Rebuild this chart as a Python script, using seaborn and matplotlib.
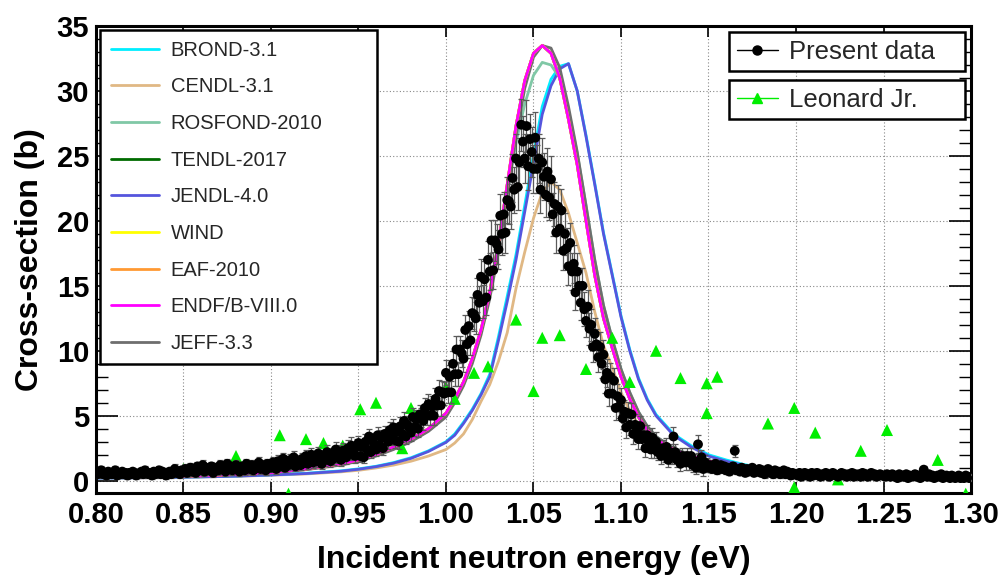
import numpy as np
import pandas as pd
import matplotlib
matplotlib.use("Agg")
import matplotlib.pyplot as plt
import seaborn as sns
from matplotlib.lines import Line2D
from matplotlib.ticker import MultipleLocator, FormatStrFormatter

# ---------------- data ----------------
# Present data: energy grid (eV, 1 meV bins) and cross-section (b) with uncertainties
energy = np.linspace(0.80, 1.30, 501)
xs_present = [
    # 0.800 - 0.849
    0.7, 0.5, 0.6, 0.8, 0.5, 0.6, 0.4, 0.7, 0.6, 0.5, 0.6, 0.8, 0.4, 0.6, 0.5, 0.7, 0.5, 0.6, 0.4, 0.6,
    0.5, 0.7, 0.6, 0.4, 0.5, 0.6, 0.7, 0.5, 0.8, 0.6, 0.5, 0.6, 0.4, 0.7, 0.5, 0.6, 0.8, 0.5, 0.7, 0.6,
    0.4, 0.6, 0.7, 0.5, 0.6, 0.9, 0.6, 0.7, 0.5, 0.8,
    # 0.850 - 0.899
    0.7, 0.9, 0.6, 0.8, 1.0, 0.7, 0.9, 0.6, 1.1, 0.8, 0.9, 1.2, 0.7, 1.0, 0.8, 0.9, 1.1, 0.6, 1.0, 0.9,
    0.8, 1.2, 0.9, 1.0, 0.7, 1.3, 0.9, 1.1, 0.8, 1.0, 1.2, 0.9, 0.7, 1.1, 1.0, 0.8, 1.3, 1.0, 0.9, 1.2,
    0.8, 1.1, 1.0, 1.4, 0.9, 1.2, 1.0, 0.8, 1.3, 1.1,
    # 0.900 - 0.949
    1.0, 1.4, 1.2, 0.9, 1.5, 1.1, 1.3, 1.7, 1.0, 1.4, 1.2, 1.6, 1.3, 1.8, 1.1, 1.5, 1.4, 1.2, 1.7, 1.5,
    1.9, 1.3, 1.6, 2.0, 1.4, 1.8, 1.5, 2.1, 1.7, 1.3, 1.9, 1.6, 2.2, 1.8, 1.5, 2.0, 1.7, 2.4, 1.9, 2.2,
    1.6, 2.3, 2.0, 1.8, 2.5, 2.1, 2.7, 2.2, 1.9, 2.6,
    # 0.950 - 0.999
    2.9, 1.9, 2.6, 1.8, 3.0, 2.4, 3.4, 2.2, 3.1, 2.8, 2.4, 3.5, 2.7, 3.3, 2.5, 3.6, 3.3, 3.0, 3.9, 3.3,
    4.1, 3.1, 3.8, 3.0, 4.2, 3.6, 4.6, 3.4, 4.3, 4.1, 3.7, 4.9, 4.1, 4.7, 4.0, 5.1, 4.9, 4.6, 5.6, 5.0,
    5.9, 5.0, 5.7, 5.0, 6.3, 5.8, 6.9, 5.8, 6.8, 6.7,
    # 1.000 - 1.049
    8.3, 6.8, 8.0, 6.8, 9.0, 8.2, 10.1, 8.2, 10.1, 9.8, 9.4, 11.6, 10.5, 11.9, 10.8, 12.9, 12.8, 12.5, 14.3, 13.7,
    15.7, 13.8, 15.5, 14.1, 17.0, 16.1, 18.5, 16.2, 18.5, 18.2, 17.8, 20.4, 19.0, 20.5, 19.1, 21.6, 21.5, 21.1, 23.3, 22.4,
    24.8, 22.6, 24.5, 27.4, 26.1, 24.8, 27.3, 24.2, 26.3, 25.3,
    # 1.050 - 1.099
    24.0, 26.4, 24.0, 24.8, 22.4, 24.5, 23.4, 22.0, 23.8, 21.8, 23.2, 20.5, 21.3, 19.1, 21.1, 19.4, 20.8, 17.7, 19.0, 17.9,
    16.5, 18.3, 16.1, 16.7, 14.5, 16.1, 15.0, 13.7, 15.0, 13.2, 12.3, 13.4, 11.7, 12.0, 10.3, 11.3, 10.5, 9.5, 10.3, 9.0,
    9.7, 7.8, 8.3, 6.7, 8.0, 6.7, 7.7, 5.6, 6.5, 5.7,
    # 1.100 - 1.149
    6.2, 4.8, 5.3, 4.1, 5.2, 4.3, 5.1, 3.6, 4.3, 3.8, 3.2, 4.2, 3.2, 3.5, 2.5, 3.5, 3.0, 2.4, 3.3, 2.4,
    3.0, 2.2, 2.5, 1.9, 2.5, 2.1, 2.6, 1.6, 2.2, 1.9, 3.4, 2.2, 1.6, 1.8, 1.3, 1.9, 1.7, 1.4, 1.9, 1.4,
    1.9, 1.2, 1.5, 1.0, 2.8, 1.2, 1.8, 0.9, 1.4, 1.2,
    # 1.150 - 1.199
    1.0, 1.2, 0.9, 1.1, 1.3, 0.8, 1.0, 1.2, 0.9, 1.1, 0.8, 1.0, 0.7, 0.9, 1.1, 2.3, 0.8, 0.9, 0.7, 1.0,
    0.8, 0.6, 0.9, 0.7, 0.8, 1.0, 0.6, 0.8, 0.7, 0.9, 0.6, 0.8, 0.5, 0.7, 0.9, 0.6, 0.7, 0.5, 0.8, 0.6,
    0.7, 0.5, 0.6, 0.8, 0.5, 0.7, 0.6, 0.4, 0.6, 0.5,
    # 1.200 - 1.249
    0.5, 0.4, 0.6, 0.3, 0.5, 0.6, 0.4, 0.5, 0.3, 0.6, 0.4, 0.5, 0.6, 0.4, 0.3, 0.5, 0.4, 0.6, 0.5, 0.3,
    0.4, 0.6, 0.5, 0.4, 0.3, 0.5, 0.6, 0.4, 0.5, 0.3, 0.5, 0.4, 0.6, 0.3, 0.5, 0.4, 0.5, 0.3, 0.6, 0.4,
    0.5, 0.3, 0.4, 0.6, 0.4, 0.5, 0.3, 0.4, 0.5, 0.4,
    # 1.250 - 1.300
    0.4, 0.3, 0.5, 0.4, 0.3, 0.5, 0.4, 0.3, 0.2, 0.5, 0.3, 0.4, 0.3, 0.5, 0.2, 0.4, 0.3, 0.4, 0.5, 0.3,
    0.4, 0.2, 0.3, 0.85, 0.4, 0.3, 0.5, 0.3, 0.4, 0.2, 0.3, 0.4, 0.3, 0.5, 0.2, 0.3, 0.4, 0.3, 0.2, 0.4,
    0.3, 0.2, 0.3, 0.4, 0.2, 0.3, 0.2, 0.4, 0.3, 0.2, 0.3,
]
err_present = [
    0.31, 0.28, 0.30, 0.33, 0.28, 0.30, 0.26, 0.31, 0.30, 0.28, 0.30, 0.33, 0.26, 0.30, 0.28, 0.31, 0.28, 0.30, 0.26, 0.30,
    0.28, 0.31, 0.30, 0.26, 0.28, 0.30, 0.31, 0.28, 0.33, 0.30, 0.28, 0.30, 0.26, 0.31, 0.28, 0.30, 0.33, 0.28, 0.31, 0.30,
    0.26, 0.30, 0.31, 0.28, 0.30, 0.35, 0.30, 0.31, 0.28, 0.33,
    0.31, 0.35, 0.30, 0.33, 0.36, 0.31, 0.35, 0.30, 0.37, 0.33, 0.35, 0.38, 0.31, 0.36, 0.33, 0.35, 0.37, 0.30, 0.36, 0.35,
    0.33, 0.38, 0.35, 0.36, 0.31, 0.40, 0.35, 0.37, 0.33, 0.36, 0.38, 0.35, 0.31, 0.37, 0.36, 0.33, 0.40, 0.36, 0.35, 0.38,
    0.33, 0.37, 0.36, 0.41, 0.35, 0.38, 0.36, 0.33, 0.40, 0.37,
    0.36, 0.42, 0.39, 0.35, 0.44, 0.37, 0.40, 0.46, 0.36, 0.42, 0.39, 0.45, 0.40, 0.48, 0.37, 0.44, 0.42, 0.39, 0.46, 0.44,
    0.50, 0.40, 0.45, 0.52, 0.42, 0.48, 0.44, 0.53, 0.46, 0.40, 0.50, 0.45, 0.55, 0.48, 0.44, 0.52, 0.46, 0.58, 0.50, 0.55,
    0.45, 0.57, 0.52, 0.48, 0.60, 0.53, 0.63, 0.55, 0.50, 0.62,
    0.55, 0.46, 0.52, 0.45, 0.56, 0.50, 0.60, 0.48, 0.57, 0.54, 0.50, 0.61, 0.53, 0.59, 0.51, 0.62, 0.59, 0.56, 0.65, 0.59,
    0.66, 0.57, 0.64, 0.56, 0.67, 0.62, 0.70, 0.60, 0.68, 0.66, 0.63, 0.73, 0.66, 0.71, 0.65, 0.74, 0.73, 0.70, 0.78, 0.73,
    0.80, 0.73, 0.79, 0.73, 0.84, 0.80, 0.88, 0.80, 0.87, 0.86,
    0.96, 0.85, 0.94, 0.85, 1.00, 0.94, 1.07, 0.94, 1.07, 1.05, 1.02, 1.17, 1.09, 1.19, 1.12, 1.25, 1.24, 1.22, 1.34, 1.30,
    1.40, 1.30, 1.39, 1.32, 1.48, 1.43, 1.57, 1.44, 1.57, 1.55, 1.52, 1.68, 1.59, 1.69, 1.60, 1.75, 1.74, 1.72, 1.84, 1.78,
    1.88, 1.77, 1.87, 2.00, 1.94, 1.88, 2.00, 1.85, 1.95, 1.90,
    1.84, 1.96, 1.84, 1.88, 1.76, 1.87, 1.81, 1.74, 1.83, 1.73, 1.80, 1.66, 1.70, 1.59, 1.69, 1.61, 1.68, 1.52, 1.59, 1.53,
    1.46, 1.55, 1.44, 1.47, 1.36, 1.44, 1.39, 1.32, 1.39, 1.30, 1.25, 1.31, 1.22, 1.24, 1.15, 1.20, 1.16, 1.11, 1.15, 1.08,
    1.12, 1.02, 1.05, 0.96, 1.03, 0.96, 1.01, 0.90, 0.95, 0.91,
    0.94, 0.85, 0.88, 0.79, 0.87, 0.81, 0.86, 0.76, 0.81, 0.78, 0.73, 0.80, 0.73, 0.75, 0.67, 0.75, 0.71, 0.66, 0.73, 0.66,
    0.71, 0.64, 0.66, 0.61, 0.66, 0.63, 0.67, 0.58, 0.63, 0.61, 0.73, 0.64, 0.58, 0.60, 0.55, 0.61, 0.59, 0.56, 0.61, 0.56,
    0.61, 0.54, 0.57, 0.52, 0.68, 0.54, 0.60, 0.51, 0.56, 0.54,
    0.31, 0.33, 0.30, 0.32, 0.34, 0.29, 0.31, 0.33, 0.30, 0.32, 0.29, 0.31, 0.28, 0.30, 0.32, 0.45, 0.29, 0.30, 0.28, 0.31,
    0.29, 0.27, 0.30, 0.28, 0.29, 0.31, 0.27, 0.29, 0.28, 0.30, 0.27, 0.29, 0.26, 0.28, 0.30, 0.27, 0.28, 0.26, 0.29, 0.27,
    0.28, 0.26, 0.27, 0.29, 0.26, 0.28, 0.27, 0.25, 0.27, 0.26,
    0.26, 0.25, 0.27, 0.24, 0.26, 0.27, 0.25, 0.26, 0.24, 0.27, 0.25, 0.26, 0.27, 0.25, 0.24, 0.26, 0.25, 0.27, 0.26, 0.24,
    0.25, 0.27, 0.26, 0.25, 0.24, 0.26, 0.27, 0.25, 0.26, 0.24, 0.26, 0.25, 0.27, 0.24, 0.26, 0.25, 0.26, 0.24, 0.27, 0.25,
    0.26, 0.24, 0.25, 0.27, 0.25, 0.26, 0.24, 0.25, 0.26, 0.25,
    0.25, 0.24, 0.26, 0.25, 0.24, 0.26, 0.25, 0.24, 0.23, 0.26, 0.24, 0.25, 0.24, 0.26, 0.23, 0.25, 0.24, 0.25, 0.26, 0.24,
    0.25, 0.23, 0.24, 0.30, 0.25, 0.24, 0.26, 0.24, 0.25, 0.23, 0.24, 0.25, 0.24, 0.26, 0.23, 0.24, 0.25, 0.24, 0.23, 0.25,
    0.24, 0.23, 0.24, 0.25, 0.23, 0.24, 0.23, 0.25, 0.24, 0.23, 0.24,
]
if len(xs_present) != len(energy) or len(err_present) != len(energy):
    raise ValueError(f"length mismatch: {len(energy)} {len(xs_present)} {len(err_present)}")

# Leonard Jr. measurement
leonard_energy = [0.850, 0.880, 0.905, 0.910, 0.920, 0.930, 0.941, 0.951, 0.960, 0.975, 0.980,
                  1.000, 1.005, 1.016, 1.024, 1.040, 1.050, 1.055, 1.065, 1.080, 1.095, 1.105,
                  1.120, 1.134, 1.149, 1.155, 1.149, 1.184, 1.199, 1.199, 1.211, 1.224, 1.237,
                  1.252, 1.281, 1.297]
leonard_xs = [0.9, 1.9, 3.5, -1.0, 3.2, 2.9, 2.7, 5.5, 6.0, 2.5, 5.6,
              7.2, 6.3, 8.3, 8.8, 12.4, 6.9, 11.0, 11.2, 8.6, 11.0, 7.6,
              10.0, 7.9, 7.5, 8.0, 5.2, 4.4, 5.6, -0.5, 3.7, 0.1, 2.3,
              3.9, 1.6, -1.0]

# Evaluated nuclear data libraries (common energy grid, eV)
eval_energy = [0.80, 0.82, 0.84, 0.86, 0.88, 0.90, 0.92, 0.94, 0.95, 0.96, 0.97, 0.98, 0.99, 1.00,
               1.005, 1.01, 1.015, 1.02, 1.025, 1.03, 1.035, 1.04, 1.045, 1.05, 1.055, 1.06,
               1.065, 1.07, 1.075, 1.08, 1.085, 1.09, 1.095, 1.10, 1.105, 1.11, 1.115, 1.12,
               1.13, 1.14, 1.15, 1.16, 1.17, 1.18, 1.20, 1.22, 1.24, 1.26, 1.28, 1.30]

brond_31 = [0.21, 0.23, 0.26, 0.30, 0.36, 0.45, 0.57, 0.76, 0.91, 1.11, 1.39, 1.77, 2.3, 3.0,
            3.6, 4.5, 5.5, 6.7, 8.2, 11.1, 14.2, 17.4, 21.2, 25.1, 28.8, 30.9,
            31.9, 32.1, 30.0, 26.6, 22.9, 19.1, 15.9, 12.7, 10.1, 7.9, 6.3, 5.1,
            3.6, 2.7, 2.0, 1.6, 1.25, 1.02, 0.70, 0.52, 0.41, 0.34, 0.30, 0.27]
cendl_31 = [0.20, 0.22, 0.25, 0.29, 0.34, 0.42, 0.52, 0.68, 0.80, 0.98, 1.2, 1.5, 1.9, 2.4,
            2.9, 3.6, 4.7, 6.1, 7.4, 9.2, 11.4, 14.8, 17.6, 20.2, 22.2, 23.0,
            22.4, 20.6, 18.3, 16.0, 13.0, 10.4, 8.7, 6.8, 5.4, 4.3, 3.4, 2.8,
            2.1, 1.65, 1.3, 1.07, 0.90, 0.76, 0.56, 0.43, 0.35, 0.30, 0.26, 0.23]
rosfond_2010 = [0.25, 0.28, 0.32, 0.38, 0.47, 0.60, 0.86, 1.22, 1.52, 1.92, 2.45, 3.05, 3.85, 5.0,
                6.1, 7.4, 9.2, 11.4, 14.3, 18.0, 22.2, 26.0, 29.0, 31.2, 32.2, 32.0,
                31.0, 28.5, 25.2, 21.2, 17.0, 13.5, 10.9, 8.6, 6.8, 5.3, 4.2, 3.4,
                2.5, 1.95, 1.55, 1.25, 1.02, 0.87, 0.62, 0.46, 0.37, 0.31, 0.27, 0.24]
jendl_40 = [0.20, 0.22, 0.25, 0.29, 0.35, 0.44, 0.55, 0.73, 0.88, 1.08, 1.35, 1.72, 2.25, 2.95,
            3.5, 4.4, 5.4, 6.6, 8.0, 10.8, 13.8, 17.0, 20.7, 24.4, 28.2, 30.4,
            31.7, 32.1, 30.0, 26.5, 22.8, 19.0, 15.8, 12.6, 10.0, 7.8, 6.2, 5.0,
            3.5, 2.6, 1.9, 1.5, 1.18, 0.96, 0.66, 0.49, 0.39, 0.32, 0.28, 0.25]
endf_b8 = [0.25, 0.28, 0.32, 0.38, 0.48, 0.62, 0.90, 1.3, 1.6, 2.0, 2.6, 3.2, 4.0, 5.2,
           6.3, 7.6, 9.4, 11.6, 14.5, 18.3, 22.8, 27.3, 30.8, 32.9, 33.5, 32.9,
           31.0, 27.8, 24.3, 20.0, 15.8, 12.5, 10.2, 8.0, 6.3, 4.9, 3.9, 3.2,
           2.4, 1.9, 1.5, 1.2, 1.0, 0.85, 0.60, 0.45, 0.36, 0.30, 0.26, 0.23]
jeff_33 = [0.25, 0.28, 0.32, 0.38, 0.47, 0.60, 0.85, 1.2, 1.5, 1.9, 2.4, 3.0, 3.8, 4.9,
           6.0, 7.3, 9.0, 11.2, 14.0, 17.6, 22.0, 26.5, 30.2, 32.6, 33.5, 33.3,
           31.8, 28.8, 25.3, 21.2, 17.0, 13.5, 10.9, 8.6, 6.8, 5.3, 4.2, 3.4,
           2.5, 1.95, 1.55, 1.25, 1.02, 0.87, 0.62, 0.46, 0.37, 0.31, 0.27, 0.24]
# These three coincide with ENDF/B-VIII.0 at the resolution of the figure
tendl_2017 = endf_b8
wind = endf_b8
eaf_2010 = endf_b8

legend_order = ["BROND-3.1", "CENDL-3.1", "ROSFOND-2010", "TENDL-2017", "JENDL-4.0",
                "WIND", "EAF-2010", "ENDF/B-VIII.0", "JEFF-3.3"]
library_values = {
    "BROND-3.1": brond_31, "CENDL-3.1": cendl_31, "ROSFOND-2010": rosfond_2010,
    "TENDL-2017": tendl_2017, "JENDL-4.0": jendl_40, "WIND": wind, "EAF-2010": eaf_2010,
    "ENDF/B-VIII.0": endf_b8, "JEFF-3.3": jeff_33,
}
library_colors = {
    "BROND-3.1": "#00eeff", "CENDL-3.1": "#e0b884", "ROSFOND-2010": "#80c8a6",
    "TENDL-2017": "#006b00", "JENDL-4.0": "#5555dd", "WIND": "#ffff00",
    "EAF-2010": "#ff9933", "ENDF/B-VIII.0": "#ff00ff", "JEFF-3.3": "#6e6e6e",
}
draw_order = ["CENDL-3.1", "BROND-3.1", "JENDL-4.0", "ROSFOND-2010", "JEFF-3.3",
              "TENDL-2017", "WIND", "EAF-2010", "ENDF/B-VIII.0"]

# ---------------- plot ----------------
sns.set_theme(style="white")
plt.rcParams["font.family"] = ["Liberation Sans", "DejaVu Sans"]

fig = plt.figure(figsize=(10.03, 5.78), dpi=100)
ax = fig.add_axes([0.0957, 0.147, 0.8724, 0.808])

handles = {}
for name in draw_order:
    df = pd.DataFrame({"E": eval_energy, "xs": library_values[name]})
    sns.lineplot(data=df, x="E", y="xs", ax=ax, color=library_colors[name], lw=2.0,
                 sort=False, estimator=None, zorder=2)
    handles[name] = ax.lines[-1]

sns.scatterplot(x=leonard_energy, y=leonard_xs, ax=ax, marker="^", color="#00ee00",
                s=75, edgecolor="none", zorder=3, legend=False)
ax.errorbar(energy, xs_present, yerr=err_present, fmt="none", ecolor="#5a5a5a",
            elinewidth=0.9, capsize=2.0, capthick=0.9, zorder=4)
sns.scatterplot(x=energy, y=xs_present, ax=ax, color="black", s=50, edgecolor="none",
                zorder=5, legend=False)

ax.set_xlim(0.80, 1.30)
ax.set_ylim(-0.95, 35)
ax.xaxis.set_major_locator(MultipleLocator(0.05))
ax.xaxis.set_major_formatter(FormatStrFormatter("%.2f"))
ax.yaxis.set_major_locator(MultipleLocator(5))
ax.yaxis.set_minor_locator(MultipleLocator(1))
ax.tick_params(axis="x", which="major", direction="in", length=8, width=1.2, color="black",
               top=True, bottom=True, labelsize=21, pad=6, labelcolor="black")
ax.tick_params(axis="y", which="major", direction="in", length=16, width=1.2, color="black",
               left=True, right=True, labelsize=21, pad=5, labelcolor="black")
ax.tick_params(axis="y", which="minor", direction="in", length=8.5, width=1.0, color="black",
               left=True, right=True)
for lbl in ax.get_xticklabels() + ax.get_yticklabels():
    lbl.set_fontweight("bold")

for sp in ax.spines.values():
    sp.set_visible(True)
    sp.set_color("black")
    sp.set_linewidth(2.2)

ax.grid(True, which="major", color="#888888", linestyle=(0, (1, 2)), linewidth=0.8)
ax.set_axisbelow(True)

ax.set_xlabel("Incident neutron energy (eV)", fontsize=23, fontweight="bold", labelpad=11, color="black")
ax.set_ylabel("Cross-section (b)", fontsize=23, fontweight="bold", labelpad=8, color="black")

leg1 = ax.legend([handles[n] for n in legend_order], legend_order, loc="upper left",
                 bbox_to_anchor=(0.005, 0.992, 0.3165, 0.0), mode="expand", fontsize=14.5,
                 frameon=True, fancybox=False, edgecolor="black", framealpha=1,
                 handlelength=2.35, handletextpad=0.6, labelspacing=0.875, borderpad=0.55,
                 borderaxespad=0)
leg1.get_frame().set_linewidth(1.8)
ax.add_artist(leg1)

h_present = Line2D([], [], color="black", lw=1.0, marker="o", markersize=6.5)
leg2 = ax.legend([h_present], ["Present data"], loc="upper left",
                 bbox_to_anchor=(0.7234, 0.987, 0.2697, 0.0), mode="expand", fontsize=18.5,
                 frameon=True, fancybox=False, edgecolor="black", framealpha=1,
                 handlelength=1.6, handletextpad=0.45, borderpad=0.3, borderaxespad=0)
leg2.get_frame().set_linewidth(1.8)
ax.add_artist(leg2)

h_leonard = Line2D([], [], color="#00ee00", lw=1.0, marker="^", markersize=7)
leg3 = ax.legend([h_leonard], ["Leonard Jr."], loc="upper left",
                 bbox_to_anchor=(0.7234, 0.8844, 0.2697, 0.0), mode="expand", fontsize=18.5,
                 frameon=True, fancybox=False, edgecolor="black", framealpha=1,
                 handlelength=1.6, handletextpad=0.45, borderpad=0.3, borderaxespad=0)
leg3.get_frame().set_linewidth(1.8)

fig.savefig("out.png", dpi=100)
